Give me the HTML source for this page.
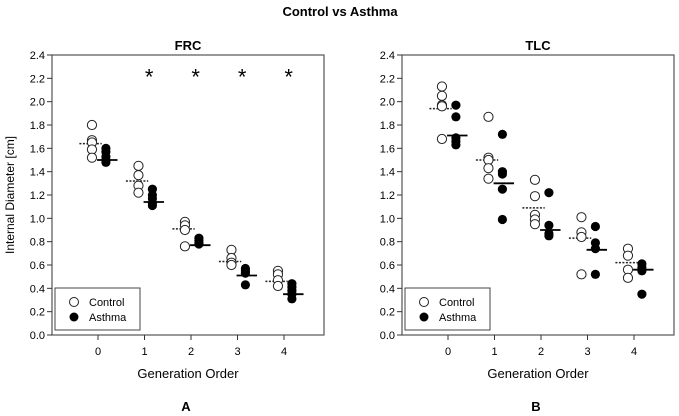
<!DOCTYPE html>
<html><head><meta charset="utf-8"><style>
body{margin:0;background:#fff}
svg{display:block;font-family:"Liberation Sans",Arial,sans-serif}
</style></head><body>
<svg id="c" width="679" height="416" viewBox="0 0 679 416">
<text x="340" y="16" text-anchor="middle" font-size="13" font-weight="bold">Control vs Asthma</text>
</svg>
<script>
const categories=[0,1,2,3,4];
const yTicks=["0.0","0.2","0.4","0.6","0.8","1.0","1.2","1.4","1.6","1.8","2.0","2.2","2.4"];
const frcControl=[[1.80,1.67,1.65,1.59,1.52],[1.45,1.37,1.28,1.22],[0.97,0.94,0.90,0.76],[0.73,0.66,0.62,0.60],[0.55,0.52,0.47,0.42]];
const frcAsthma=[[1.60,1.57,1.53,1.50,1.48],[1.25,1.20,1.17,1.13,1.11],[0.83,0.81,0.79,0.78],[0.57,0.55,0.53,0.43],[0.44,0.41,0.38,0.35,0.31]];
const frcControlMean=[1.64,1.32,0.91,0.63,0.46];
const frcAsthmaMean=[1.50,1.14,0.77,0.51,0.35];
const frcStars=[1,2,3,4];
const tlcControl=[[2.13,2.05,1.97,1.96,1.68],[1.87,1.52,1.50,1.43,1.34],[1.33,1.19,1.03,0.99,0.95],[1.01,0.88,0.84,0.52],[0.74,0.68,0.56,0.49]];
const tlcAsthma=[[1.97,1.87,1.69,1.66,1.63],[1.72,1.40,1.38,1.25,0.99],[1.22,0.94,0.87,0.85],[0.93,0.79,0.74,0.52],[0.61,0.58,0.55,0.35]];
const tlcControlMean=[1.94,1.50,1.09,0.83,0.62];
const tlcAsthmaMean=[1.71,1.30,0.90,0.73,0.56];
const tlcStars=[];

const NS="http://www.w3.org/2000/svg";
const svg=document.getElementById('c');
function mk(t,a,p){const e=document.createElementNS(NS,t);for(const k in a)e.setAttribute(k,a[k]);(p||svg).appendChild(e);return e;}

function panel(o){
  const g=mk('g',{});
  
  
  const L=o.left,R=o.right,T=55,B=335;
  const y=v=>B-v/2.4*(B-T);
  const x=c=>o.x0+c*46.5;
  const fr=mk('rect',{x:L,y:T,width:R-L,height:B-T,fill:'none',stroke:'#555','stroke-width':1.2},g);
  
  
  const pt=mk('text',{x:(L+R)/2,y:50,'text-anchor':'middle','font-size':13,'font-weight':'bold'},g);
  pt.textContent=o.title;
  
  
  yTicks.forEach(t=>{const v=parseFloat(t);
    mk('line',{x1:L-5,x2:L,y1:y(v),y2:y(v),stroke:'#333'},g);
    const tx=mk('text',{x:L-7,y:y(v)+4,'text-anchor':'end','font-size':11},g);tx.textContent=t;
    
    
  });
  categories.forEach(c=>{
    mk('line',{x1:x(c),x2:x(c),y1:B,y2:B+5,stroke:'#333'},g);
    const tx=mk('text',{x:x(c),y:B+20,'text-anchor':'middle','font-size':11},g);tx.textContent=c;
    
    
  });
  const xl=mk('text',{x:(L+R)/2,y:378,'text-anchor':'middle','font-size':13},g);xl.textContent='Generation Order';
  
  
  const pl=mk('text',{x:(L+R)/2-2,y:411,'text-anchor':'middle','font-size':13,'font-weight':'bold'},g);pl.textContent=o.label;
  
  
  categories.forEach((c,i)=>{
    const ml=mk('line',{x1:x(c-0.4),x2:x(c+0.08),y1:y(o.cm[i]),y2:y(o.cm[i]),stroke:'#222','stroke-width':1.5,'stroke-dasharray':'2,1.5'},g);
    
    
    o.cv[i].forEach(v=>{const p=mk('circle',{cx:x(c-0.13),cy:y(v),r:4.6,fill:'#fff',stroke:'#222','stroke-width':1},g);
      
      });
    o.av[i].forEach(v=>{const p=mk('circle',{cx:x(c+0.17),cy:y(v),r:4.6,fill:'#000'},g);
      
      });
    const al=mk('line',{x1:x(c-0.02),x2:x(c+0.42),y1:y(o.am[i]),y2:y(o.am[i]),stroke:'#000','stroke-width':1.8},g);
    
    
  });
  o.stars.forEach(c=>{const s=mk('text',{x:x(c+0.1),y:y(2.25)+12,'text-anchor':'middle','font-size':22},g);s.textContent='*';
    
    });
  const lg=mk('g',{},g);
  
  
  mk('rect',{x:L+3,y:288,width:85,height:42,fill:'#fff',stroke:'#444'},lg);
  mk('circle',{cx:L+22,cy:302,r:4.5,fill:'#fff',stroke:'#222'},lg);
  mk('circle',{cx:L+22,cy:317,r:4.5,fill:'#000'},lg);
  const t1=mk('text',{x:L+37,y:306,'font-size':11},lg);t1.textContent='Control';
  
  
  const t2=mk('text',{x:L+37,y:321,'font-size':11},lg);t2.textContent='Asthma';
  
  
}
panel({name:'frc-panel',title:'FRC',label:'A',left:52,right:324,x0:98,cv:frcControl,av:frcAsthma,cm:frcControlMean,am:frcAsthmaMean,stars:frcStars});
panel({name:'tlc-panel',title:'TLC',label:'B',left:402,right:674,x0:448,cv:tlcControl,av:tlcAsthma,cm:tlcControlMean,am:tlcAsthmaMean,stars:tlcStars});
const yl=mk('text',{x:14,y:195,'text-anchor':'middle','font-size':12,transform:'rotate(-90 14 195)'});
yl.textContent='Internal Diameter [cm]';


</script>
</body></html>
